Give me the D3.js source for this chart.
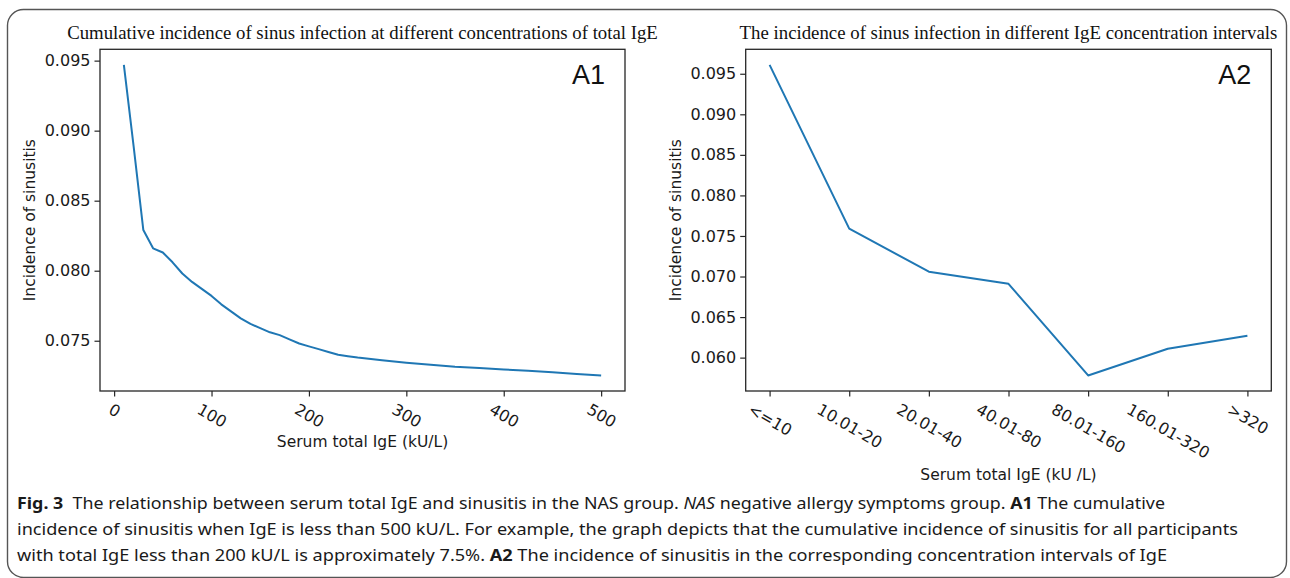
<!DOCTYPE html>
<html><head><meta charset="utf-8">
<script src="https://cdn.jsdelivr.net/npm/d3@7"></script>
<style>
body{margin:0;background:#fff;}
svg{display:block;}
</style></head>
<body>
<svg id="chart" width="1290" height="578"></svg>
<script>
// ---- data ----
const a1Title = "Cumulative incidence of sinus infection at different concentrations of total IgE";
const a2Title = "The incidence of sinus infection in different IgE concentration intervals";
const a1IgE = [10,20,30,40,50,60,70,80,90,100,110,120,130,140,150,160,170,180,190,200,210,220,230,240,250,275,300,325,350,375,400,425,450,475,500];
const a1Incidence = [0.0947,0.0889,0.0829,0.0816,0.0813,0.0806,0.0798,0.0792,0.0787,0.0782,0.0776,0.0771,0.0766,0.0762,0.0759,0.0756,0.0754,0.0751,0.0748,0.0746,0.0744,0.0742,0.0740,0.0739,0.0738,0.07360,0.07343,0.07328,0.07314,0.07305,0.07295,0.07285,0.07275,0.07263,0.07252];
const a1XTicks = [0,100,200,300,400,500];
const a1YTicks = [0.075,0.080,0.085,0.090,0.095];
const a2Categories = ["<=10","10.01-20","20.01-40","40.01-80","80.01-160","160.01-320",">320"];
const a2Incidence = [0.0961,0.0759,0.0706,0.0691,0.0578,0.0611,0.0627];
const a2YTicks = [0.060,0.065,0.070,0.075,0.080,0.085,0.090,0.095];
const yLabel = "Incidence of sinusitis";
const a1XLabel = "Serum total IgE (kU/L)";
const a2XLabel = "Serum total IgE (kU /L)";

const svg = d3.select("#chart");
const tickFont = "DejaVu Sans";
const lineColor = "#1f77b4";
const spineColor = "#262626";

// outer frame
svg.append("rect").attr("x",7.5).attr("y",9.5).attr("width",1279).attr("height",568)
  .attr("rx",16).attr("fill","none").attr("stroke","#555").attr("stroke-width",1.4);

function margin(lo, hi){ const m=(hi-lo)*0.05; return [lo-m, hi+m]; }

function panel(opts){
  const {left,right,top,bottom} = opts;
  const g = svg.append("g");
  const x = opts.x, y = opts.y;

  // y axis
  const yAxis = d3.axisLeft(y).tickValues(opts.yTicks).tickFormat(d3.format(".3f")).tickSize(5.5).tickPadding(4);
  const gy = g.append("g").attr("transform",`translate(${left},0)`).call(yAxis);
  gy.select(".domain").remove();
  gy.selectAll(".tick line").attr("stroke",spineColor).attr("stroke-width",1.2);
  gy.selectAll(".tick text").attr("font-family",tickFont).attr("font-size",16).attr("fill","#1a1a1a");

  // x axis
  const xAxis = d3.axisBottom(x).tickValues(opts.xTicks).tickFormat(opts.xFormat).tickSize(5.5).tickPadding(4);
  const gx = g.append("g").attr("transform",`translate(0,${bottom})`).call(xAxis);
  gx.select(".domain").remove();
  gx.selectAll(".tick line").attr("stroke",spineColor).attr("stroke-width",1.2);
  const fs = 16, h = fs*1.164, ang = 30*Math.PI/180;
  gx.selectAll(".tick text").each(function(){
    const t = d3.select(this);
    t.attr("font-family",tickFont).attr("font-size",fs).attr("fill","#1a1a1a")
     .attr("y",null).attr("dy",null).attr("text-anchor","middle").attr("dominant-baseline","central");
    const w = this.getComputedTextLength();
    const H = w*Math.sin(ang) + h*Math.cos(ang);
    t.attr("transform",`translate(0,${9 + H/2}) rotate(30)`);
  });

  // line
  g.append("path").datum(opts.data)
    .attr("fill","none").attr("stroke",lineColor).attr("stroke-width",2)
    .attr("stroke-linejoin","round")
    .attr("d", d3.line().x(d=>x(d[0])).y(d=>y(d[1])));

  // spines
  g.append("rect").attr("x",left).attr("y",top).attr("width",right-left).attr("height",bottom-top)
    .attr("fill","none").attr("stroke",spineColor).attr("stroke-width",1.3);

  // title
  const cx = (left+right)/2;
  const title = g.append("text").attr("x",cx).attr("y",39).attr("text-anchor","middle")
    .attr("font-family","Liberation Serif").attr("font-size",16).attr("fill","#111").text(opts.title);
  const tw = title.node().getComputedTextLength();
  title.attr("font-size", 16*opts.titleWidth/tw);

  // panel tag
  g.append("text").attr("x",right-20).attr("y",84).attr("text-anchor","end")
    .attr("font-family","Liberation Sans").attr("font-size",27).attr("fill","#111").text(opts.tag);

  // axis labels
  g.append("text").attr("x",cx).attr("y",opts.xLabelY).attr("text-anchor","middle")
    .attr("dominant-baseline","central")
    .attr("font-family",tickFont).attr("font-size",15.5).attr("fill","#1a1a1a").text(opts.xLabel);
  g.append("text").attr("transform",`translate(${opts.yLabelX},${(top+bottom)/2}) rotate(-90)`)
    .attr("text-anchor","middle").attr("dominant-baseline","central")
    .attr("font-family",tickFont).attr("font-size",15.5).attr("fill","#1a1a1a").text(yLabel);
}

// Panel A1
{
  const left=100, right=625, top=49.3, bottom=391;
  const x = d3.scaleLinear().domain(margin(d3.min(a1IgE), d3.max(a1IgE))).range([left,right]);
  const y = d3.scaleLinear().domain(margin(d3.min(a1Incidence), d3.max(a1Incidence))).range([bottom,top]);
  panel({left,right,top,bottom,x,y,yTicks:a1YTicks,xTicks:a1XTicks,xFormat:d3.format("d"),
    data:a1IgE.map((v,i)=>[v,a1Incidence[i]]), title:a1Title, titleWidth:591, tag:"A1",
    xLabel:a1XLabel, xLabelY:442, yLabelX:30});
}
// Panel A2
{
  const left=745.7, right=1271.3, top=49.3, bottom=391;
  const idx = a2Categories.map((c,i)=>i);
  const x = d3.scaleLinear().domain(margin(0, a2Categories.length-1)).range([left,right]);
  const y = d3.scaleLinear().domain(margin(d3.min(a2Incidence), d3.max(a2Incidence))).range([bottom,top]);
  panel({left,right,top,bottom,x,y,yTicks:a2YTicks,xTicks:idx,xFormat:i=>a2Categories[i],
    data:idx.map(i=>[i,a2Incidence[i]]), title:a2Title, titleWidth:538, tag:"A2",
    xLabel:a2XLabel, xLabelY:475, yLabelX:676});
}

// Caption
const capFont = "Noto Sans";
const capLines = [
  {y:509, width:1148, parts:[["Fig. 3","bold","normal"],["  The relationship between serum total IgE and sinusitis in the NAS group. ","normal","normal"],["NAS","normal","italic"],[" negative allergy symptoms group. ","normal","normal"],["A1","bold","normal"],[" The cumulative","normal","normal"]]},
  {y:535, width:1221, parts:[["incidence of sinusitis when IgE is less than 500 kU/L. For example, the graph depicts that the cumulative incidence of sinusitis for all participants","normal","normal"]]},
  {y:561, width:1150, parts:[["with total IgE less than 200 kU/L is approximately 7.5%. ","normal","normal"],["A2","bold","normal"],[" The incidence of sinusitis in the corresponding concentration intervals of IgE","normal","normal"]]}
];
capLines.forEach(l=>{
  const t = svg.append("text").attr("x",17).attr("y",l.y).attr("font-family",capFont)
    .attr("font-size",16.5).attr("fill","#1a1a1a").attr("xml:space","preserve").style("white-space","pre");
  l.parts.forEach(p=>t.append("tspan").attr("font-weight",p[1]).attr("font-style",p[2]).text(p[0]));
  t.attr("textLength",l.width).attr("lengthAdjust","spacingAndGlyphs");
});
</script>
</body></html>
